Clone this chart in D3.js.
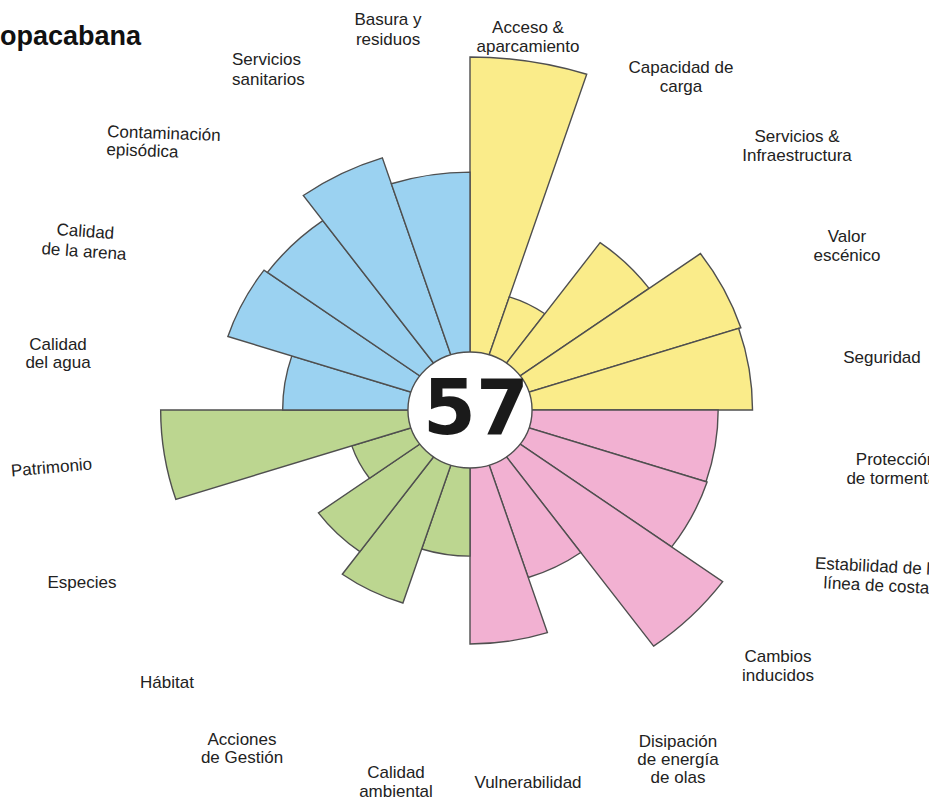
<!DOCTYPE html>
<html>
<head>
<meta charset="utf-8">
<script src="https://cdn.jsdelivr.net/npm/d3@7"></script>
<style>
  html, body { margin: 0; padding: 0; background: #fff; }
  svg { display: block; }
</style>
</head>
<body>
<svg id="chart" width="929" height="798"></svg>
<script>
// ---------------- DATA ----------------
const title = "Copacabana";
const totalScore = 57;
const categories = [
  "Acceso &\naparcamiento", "Capacidad de\ncarga", "Servicios &\nInfraestructura", "Valor\nescénico", "Seguridad",
  "Protección\nde tormentas", "Estabilidad de la\nlínea de costa", "Cambios\ninducidos", "Disipación\nde energía\nde olas", "Vulnerabilidad",
  "Calidad\nambiental", "Acciones\nde Gestión", "Hábitat", "Especies", "Patrimonio",
  "Calidad\ndel agua", "Calidad\nde la arena", "Contaminación\nepisódica", "Servicios\nsanitarios", "Basura y\nresiduos"
];
const groups = ["Uso", "Riesgo", "Conservación", "Calidad"];
const groupOfCategory = [0,0,0,0,0, 1,1,1,1,1, 2,2,2,2,2, 3,3,3,3,3];
const values = [
  10.0, 3.37, 5.86, 7.54, 7.48,
  6.57, 6.60, 8.27, 4.99, 6.63,
  4.14, 5.75, 4.96, 3.29, 8.19,
  4.96, 6.74, 6.63, 7.51, 6.74
];
const groupColors = ["#FAEC8A", "#F2B1D2", "#BCD690", "#9BD2F1"];

// ---------------- LAYOUT ----------------
const W = 929, H = 798;
const cx = 470, cy = 410, xStretch = 1.07;
const innerR = 58, maxR = 353;
const strokeCol = "#4f4f4f";
// label anchor positions (first baseline), anchor, rotation, line height
const labelLayout = [
  {x:528, y:33,  a:"middle"}, {x:681, y:73, a:"middle"}, {x:797, y:142, a:"middle"}, {x:847, y:242, a:"middle"}, {x:882, y:363, a:"middle"},
  {x:896, y:465, a:"middle"}, {x:877, y:572, a:"middle", r:3}, {x:778, y:662, a:"middle"}, {x:678, y:747, a:"middle", lh:18}, {x:528, y:788, a:"middle"},
  {x:396, y:778, a:"middle"}, {x:242, y:745, a:"middle", lh:18}, {x:167, y:688, a:"middle"}, {x:82, y:588, a:"middle"}, {x:52, y:473, a:"middle", r:-5},
  {x:58, y:350, a:"middle", lh:18}, {x:85, y:237, a:"middle", r:4, lh:20}, {x:107, y:137, a:"start", r:2, lh:18}, {x:232, y:65, a:"start", lh:20}, {x:388, y:25, a:"middle", lh:20}
];

const svg = d3.select("#chart");
svg.append("rect").attr("width", W).attr("height", H).attr("fill", "#fff");

const rScale = d3.scaleLinear().domain([0, 10]).range([0, maxR]);
const angle = d3.scaleBand().domain(d3.range(categories.length)).range([0, 2 * Math.PI]).padding(0);

const g = svg.append("g").attr("transform", `translate(${cx},${cy}) scale(${xStretch},1)`);

const arc = d3.arc()
  .innerRadius(0)
  .outerRadius(d => rScale(d.v))
  .startAngle(d => angle(d.i))
  .endAngle(d => angle(d.i) + angle.bandwidth());

const data = values.map((v, i) => ({v, i, grp: groupOfCategory[i]}));

g.selectAll("path.seg")
  .data(data)
  .join("path")
  .attr("class", "seg")
  .attr("d", arc)
  .attr("fill", d => groupColors[d.grp])
  .attr("stroke", strokeCol)
  .attr("stroke-width", 1.4)
  .attr("stroke-linejoin", "miter")
  .attr("vector-effect", "non-scaling-stroke");

g.append("circle")
  .attr("r", innerR)
  .attr("fill", "#fff")
  .attr("stroke", strokeCol)
  .attr("stroke-width", 1.4)
  .attr("vector-effect", "non-scaling-stroke");

svg.append("text")
  .attr("x", cx + 6)
  .attr("y", cy + 24)
  .attr("text-anchor", "middle")
  .attr("font-family", "DejaVu Sans, sans-serif")
  .attr("font-weight", "bold")
  .attr("font-size", 76)
  .attr("fill", "#1a1a1a")
  .text(totalScore);

// labels
const lbl = svg.append("g")
  .attr("font-family", "Liberation Sans, Arial, sans-serif")
  .attr("font-size", 17)
  .attr("fill", "#222");

categories.forEach((c, i) => {
  const L = labelLayout[i];
  const lines = c.split("\n");
  const lh = L.lh || 19;
  const t = lbl.append("text")
    .attr("text-anchor", L.a)
    .attr("transform", `translate(${L.x},${L.y}) rotate(${L.r || 0})`);
  lines.forEach((ln, k) => {
    t.append("tspan").attr("x", 0).attr("y", k * lh).text(ln);
  });
});

// title (partly outside the left edge, as in the reference)
svg.append("text")
  .attr("x", 141)
  .attr("y", 45)
  .attr("text-anchor", "end")
  .attr("font-family", "Liberation Sans, Arial, sans-serif")
  .attr("font-weight", "bold")
  .attr("font-size", 27)
  .attr("fill", "#111")
  .text(title);
</script>
</body>
</html>
